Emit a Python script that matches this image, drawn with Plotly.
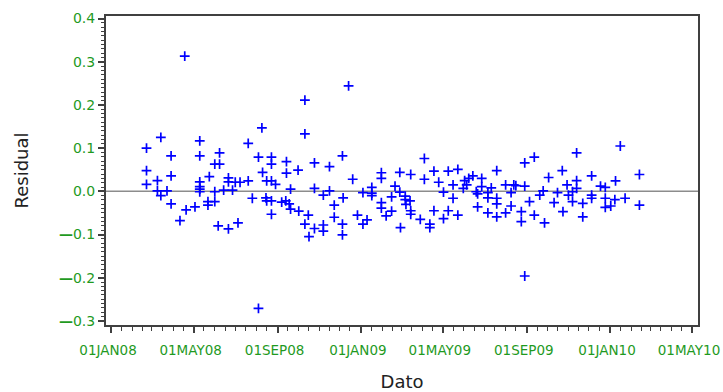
import datetime as dt
import plotly.graph_objects as go

# ---- data ----
dates = [
    "2008-02-22", "2008-02-22", "2008-02-22", "2008-03-09", "2008-03-09",
    "2008-03-14", "2008-03-14", "2008-03-23", "2008-03-29", "2008-03-29",
    "2008-03-29", "2008-04-11", "2008-04-18", "2008-04-20", "2008-05-03",
    "2008-05-10", "2008-05-10", "2008-05-10", "2008-05-10", "2008-05-10",
    "2008-05-10", "2008-05-22", "2008-05-22", "2008-05-24", "2008-06-01",
    "2008-06-01", "2008-06-01", "2008-06-06", "2008-06-08", "2008-06-08",
    "2008-06-14", "2008-06-21", "2008-06-21", "2008-06-21", "2008-06-27",
    "2008-07-01", "2008-07-05", "2008-07-08", "2008-07-20", "2008-07-20",
    "2008-07-26", "2008-08-04", "2008-08-04", "2008-08-09", "2008-08-10",
    "2008-08-15", "2008-08-16", "2008-08-16", "2008-08-23", "2008-08-23",
    "2008-08-23", "2008-08-23", "2008-08-23", "2008-08-29", "2008-09-07",
    "2008-09-13", "2008-09-14", "2008-09-14", "2008-09-18", "2008-09-20",
    "2008-09-20", "2008-10-01", "2008-10-02", "2008-10-11", "2008-10-11",
    "2008-10-11", "2008-10-16", "2008-10-17", "2008-10-25", "2008-10-25",
    "2008-10-25", "2008-11-07", "2008-11-07", "2008-11-07", "2008-11-16",
    "2008-11-16", "2008-11-23", "2008-11-23", "2008-12-05", "2008-12-05",
    "2008-12-05", "2008-12-06", "2008-12-14", "2008-12-20", "2008-12-27",
    "2009-01-04", "2009-01-04", "2009-01-10", "2009-01-17", "2009-01-17",
    "2009-01-17", "2009-01-31", "2009-01-31", "2009-01-31", "2009-01-31",
    "2009-02-07", "2009-02-15", "2009-02-15", "2009-02-20", "2009-02-27",
    "2009-02-27", "2009-02-28", "2009-03-07", "2009-03-07", "2009-03-08",
    "2009-03-14", "2009-03-15", "2009-03-15", "2009-03-15", "2009-03-29",
    "2009-04-04", "2009-04-04", "2009-04-12", "2009-04-12", "2009-04-18",
    "2009-04-18", "2009-04-25", "2009-05-02", "2009-05-02", "2009-05-09",
    "2009-05-09", "2009-05-16", "2009-05-16", "2009-05-23", "2009-05-23",
    "2009-05-31", "2009-06-02", "2009-06-05", "2009-06-08", "2009-06-14",
    "2009-06-19", "2009-06-21", "2009-06-21", "2009-06-27", "2009-06-27",
    "2009-07-06", "2009-07-06", "2009-07-06", "2009-07-11", "2009-07-19",
    "2009-07-19", "2009-07-19", "2009-07-19", "2009-08-01", "2009-08-01",
    "2009-08-09", "2009-08-09", "2009-08-13", "2009-08-16", "2009-08-24",
    "2009-08-24", "2009-08-29", "2009-08-29", "2009-08-29", "2009-09-05",
    "2009-09-12", "2009-09-12", "2009-09-20", "2009-09-25", "2009-09-27",
    "2009-10-03", "2009-10-11", "2009-10-16", "2009-10-23", "2009-10-24",
    "2009-10-30", "2009-11-01", "2009-11-07", "2009-11-07", "2009-11-13",
    "2009-11-13", "2009-11-13", "2009-11-22", "2009-11-22", "2009-12-05",
    "2009-12-05", "2009-12-05", "2009-12-18", "2009-12-25", "2009-12-25",
    "2009-12-25", "2010-01-02", "2010-01-08", "2010-01-09", "2010-01-16",
    "2010-01-23", "2010-02-13", "2010-02-13",
]
residuals = [
    0.100, 0.048, 0.016, 0.025, 0.001,
    0.125, -0.010, 0.001, 0.082, 0.036,
    -0.029, -0.068, 0.313, -0.043, -0.036,
    0.117, 0.082, 0.022, 0.011, 0.005,
    -0.001, -0.024, -0.032, 0.034, 0.063,
    -0.001, -0.024, -0.080, 0.063, 0.089,
    0.003, 0.031, 0.022, -0.087, 0.003,
    0.021, -0.073, 0.021, 0.111, 0.024,
    -0.016, 0.079, -0.271, 0.147, 0.044,
    -0.015, 0.024, -0.022, 0.079, 0.063,
    0.024, -0.022, -0.053, 0.016, -0.025,
    -0.022, 0.069, 0.042, -0.029, 0.005,
    -0.041, 0.049, -0.046, 0.211, 0.133,
    -0.076, -0.055, -0.105, 0.066, 0.007,
    -0.086, -0.009, -0.078, -0.092, 0.057,
    0.001, -0.032, -0.060, 0.082, -0.076,
    -0.101, -0.015, 0.244, 0.028, -0.055,
    -0.003, -0.076, -0.066, 0.009, -0.004,
    -0.010, 0.043, 0.030, -0.026, -0.039,
    -0.057, -0.013, -0.046, 0.012, 0.044,
    -0.002, -0.084, -0.011, -0.019, -0.030,
    -0.022, 0.039, -0.045, -0.053, -0.065,
    0.076, 0.028, -0.076, -0.084, 0.047,
    -0.045, 0.021, -0.002, -0.063, 0.047,
    -0.045, 0.015, -0.016, 0.051, -0.055,
    0.007, 0.025, 0.015, 0.030, 0.036,
    -0.001, -0.006, -0.036, 0.030, 0.011,
    -0.003, -0.015, -0.050, 0.008, 0.048,
    -0.016, -0.029, -0.059, 0.015, -0.050,
    -0.003, -0.034, 0.015, 0.013, -0.047,
    -0.070, 0.012, 0.066, -0.196, -0.024,
    0.079, -0.055, -0.009, 0.001, -0.073,
    0.032, -0.026, -0.003, 0.048, -0.047,
    0.015, -0.009, -0.001, -0.024, 0.089,
    0.025, 0.007, -0.028, -0.059, 0.036,
    -0.009, -0.016, 0.012, 0.009, -0.016,
    -0.037, -0.034, -0.019, 0.024, 0.105,
    -0.016, 0.039, -0.032,
]

x_tick_dates = ["2008-01-01", "2008-05-01", "2008-09-01", "2009-01-01",
                "2009-05-01", "2009-09-01", "2010-01-01", "2010-05-01"]
x_tick_labels = ["01JAN08", "01MAY08", "01SEP08", "01JAN09",
                 "01MAY09", "01SEP09", "01JAN10", "01MAY10"]
y_tick_vals = [-0.3, -0.2, -0.1, 0.0, 0.1, 0.2, 0.3, 0.4]
y_tick_labels = ["<b>\u2014</b>0.3", "<b>\u2014</b>0.2", "<b>\u2014</b>0.1",
                 "0.0", "0.1", "0.2", "0.3", "0.4"]

# minor ticks: 1st and 16th of each month
minor_x = []
for yr in (2008, 2009, 2010):
    for mo in range(1, 13):
        for d in (1, 16):
            t = dt.date(yr, mo, d)
            if dt.date(2008, 1, 1) <= t <= dt.date(2010, 5, 1):
                minor_x.append(t.isoformat())
minor_y = [round(-0.3 + 0.01 * i, 2) for i in range(71)]

green = "#1f9a1f"
axis_col = "#404040"

fig = go.Figure()
fig.add_hline(y=0, line=dict(color="#8c8c8c", width=1.5), layer="below")
fig.add_trace(go.Scatter(
    x=dates, y=residuals, mode="markers",
    marker=dict(symbol="cross-thin", size=7,
                line=dict(color="#0000ff", width=1.7), color="#0000ff"),
    showlegend=False, cliponaxis=False,
))

fig.update_layout(
    width=723, height=392,
    margin=dict(l=106, r=25, t=16, b=67),
    paper_bgcolor="white", plot_bgcolor="white",
    font=dict(family="DejaVu Sans", color="#222222"),
)
fig.update_xaxes(
    type="date", automargin=False,
    range=["2007-12-24 16:00", "2010-05-09 19:00"],
    tickmode="array", tickvals=x_tick_dates, ticktext=x_tick_labels,
    tickfont=dict(size=13.5, color=green, family="DejaVu Sans"),
    ticks="outside", ticklen=6, tickwidth=1.5, tickcolor=axis_col,
    ticklabelstandoff=6, ticklabelshift=-3, ticklabeloverflow="allow",
    minor=dict(tickmode="array", tickvals=minor_x, ticks="outside",
               ticklen=4, tickwidth=1.2, tickcolor=axis_col, showgrid=False),
    showline=True, linecolor=axis_col, linewidth=2, mirror=True,
    showgrid=False, zeroline=False,
    title=dict(text="Dato", font=dict(size=18, color="#222222"), standoff=18),
)
fig.update_yaxes(
    automargin=False,
    range=[-0.3095, 0.406],
    tickmode="array", tickvals=y_tick_vals, ticktext=y_tick_labels,
    tickfont=dict(size=14, color=green, family="DejaVu Sans"),
    ticks="outside", ticklen=6, tickwidth=1.5, tickcolor=axis_col,
    ticklabeloverflow="allow",
    minor=dict(tickmode="array", tickvals=minor_y, ticks="outside",
               ticklen=3, tickwidth=1.2, tickcolor=axis_col, showgrid=False),
    showline=True, linecolor=axis_col, linewidth=2, mirror=True,
    showgrid=False, zeroline=False,
    title=dict(text="Residual", font=dict(size=18, color="#222222"), standoff=26),
)

# remove the default page margin so the figure sits at the window's corner
fig.write_html(
    "out.html",
    config={"displayModeBar": False},
    post_script="document.body.style.margin='0';"
                "document.body.style.overflow='hidden';",
)
